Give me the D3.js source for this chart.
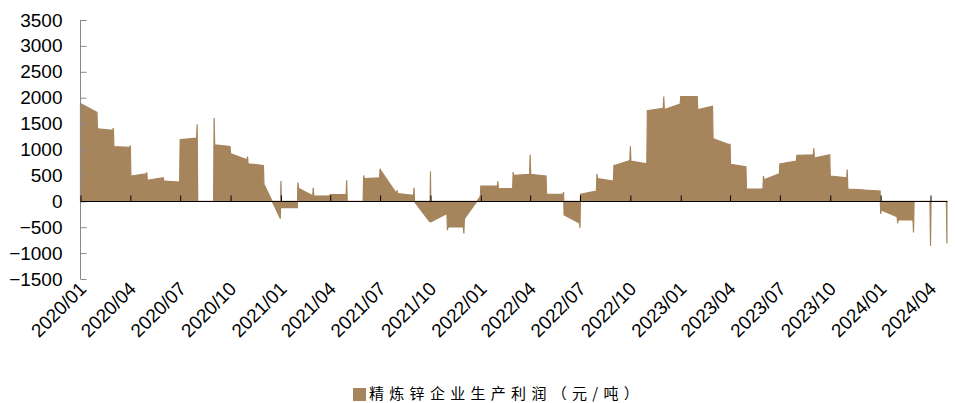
<!DOCTYPE html>
<html><head><meta charset="utf-8">
<script src="https://cdn.jsdelivr.net/npm/d3@7"></script>
<style>body{margin:0;background:#fff;}svg{display:block;font-family:"Liberation Sans",Arial,sans-serif;}</style>
</head><body><svg id="c" width="955" height="403"></svg>
<script>
// Monthly data (first month = 2020-01). firstDay = value on day 1 of the month,
// startVals = value on day 2, endVals = value on the last day. null = no data (drawn at 0).
const months = ["2020-01","2020-02","2020-03","2020-04","2020-05","2020-06","2020-07","2020-08","2020-09","2020-10","2020-11","2020-12",
"2021-01","2021-02","2021-03","2021-04","2021-05","2021-06","2021-07","2021-08","2021-09","2021-10","2021-11","2021-12",
"2022-01","2022-02","2022-03","2022-04","2022-05","2022-06","2022-07","2022-08","2022-09","2022-10","2022-11","2022-12",
"2023-01","2023-02","2023-03","2023-04","2023-05","2023-06","2023-07","2023-08","2023-09","2023-10","2023-11","2023-12",
"2024-01","2024-02","2024-03","2024-04","2024-05"];
const firstDay = [1880,1397,1417,1077,558,391,1192,1487,1610,917,865,308,
391,365,263,128,404,500,628,211,263,577,-558,-622,
295,385,564,898,135,179,-512,532,692,1064,1750,2025,
2019,1769,1205,1109,237,487,725,885,1025,487,615,215,
-244,-423,-603,-860,-813];
const startVals = [1880,1397,1058,487,404,391,1192,null,1090,917,725,308,
-121,250,102,128,null,436,596,150,-10,-397,-494,-333,
295,244,500,519,135,-260,135,436,692,775,1750,1769,
2019,1769,1205,715,237,417,725,885,833,487,237,215,
-167,-359,null,null,null];
const endVals = [1718,1372,1040,532,455,372,1218,null,1058,801,692,-333,
-121,105,105,135,null,455,147,115,-397,-237,-494,90,
295,244,519,487,135,-420,198,391,788,725,1795,1879,
2019,1833,1090,667,237,532,775,898,898,455,220,198,
-295,-359,null,null,null];
const yTicks = [-1500,-1000,-500,0,500,1000,1500,2000,2500,3000,3500];
const xTickLabels = ["2020/01","2020/04","2020/07","2020/10","2021/01","2021/04","2021/07","2021/10","2022/01","2022/04","2022/07","2022/10","2023/01","2023/04","2023/07","2023/10","2024/01","2024/04"];
const seriesName = "精炼锌企业生产利润（元/吨）";

const parseM = d3.timeParse("%Y-%m");
const parseT = d3.timeParse("%Y/%m");
const pts = [];
months.forEach((m, i) => {
  const d = parseM(m);
  pts.push({date: d, v: firstDay[i]});
  if (i < months.length - 1) {
    const next = parseM(months[i + 1]);
    pts.push({date: d3.timeDay.offset(d, 1), v: startVals[i] == null ? 0 : startVals[i]});
    pts.push({date: d3.timeDay.offset(next, -1), v: endVals[i] == null ? 0 : endVals[i]});
  }
});

const svg = d3.select("#c");
const color = "#a6845c";
const x = d3.scaleTime().domain([parseT("2020/01"), parseT("2024/04")]).range([80.5, 930.5]);
const y = d3.scaleLinear().domain([-1500, 3500]).range([279, 20]);

const area = d3.area().x(d => x(d.date)).y0(y(0)).y1(d => y(d.v));
svg.append("path").datum(pts).attr("d", area).attr("fill", color)
  .attr("stroke", color).attr("stroke-width", 1.2).attr("stroke-linejoin", "miter").attr("stroke-miterlimit", 2);

// y axis
const yAx = svg.append("g").attr("transform", "translate(80.5,0)")
  .call(d3.axisLeft(y).tickValues(yTicks).tickSize(-6).tickPadding(18).tickFormat(d3.format("d")));
yAx.select(".domain").attr("stroke", "#888").attr("d", `M-0,${y(3500)}V${y(-1500)}`);
yAx.selectAll(".tick line").attr("stroke", "#888");
yAx.selectAll("text").attr("font-size", 19).attr("fill", "#000").attr("font-family", "Liberation Sans, Arial, sans-serif");

// x axis at zero
const xDates = xTickLabels.map(parseT);
const y0 = Math.round(y(0)) + 0.5;
const xAx = svg.append("g").attr("transform", `translate(0,${y0})`)
  .call(d3.axisBottom(x).tickValues(xDates).tickSize(-6).tickFormat(""));
xAx.select(".domain").attr("stroke", "#000").attr("d", `M${x(parseT("2020/01"))},0H${x(d3.timeDay.offset(parseT("2024/05"),1))}`);
xAx.selectAll(".tick line").attr("stroke", "#000");

// x labels at bottom, rotated
svg.append("g").selectAll("text").data(xDates).join("text")
  .attr("transform", d => `translate(${x(d) + 7},${290}) rotate(-45)`)
  .attr("text-anchor", "end")
  .attr("font-size", 19)
  .text((d, i) => xTickLabels[i]);

// legend
const lg = svg.append("g");
lg.append("rect").attr("x", 353).attr("y", 388).attr("width", 13).attr("height", 13).attr("fill", color);
lg.append("text").attr("x", 369).attr("y", 399).attr("font-size", 15).attr("letter-spacing", 5.3)
  .attr("font-family", "Noto Sans CJK SC, sans-serif").text(seriesName);
</script></body></html>
